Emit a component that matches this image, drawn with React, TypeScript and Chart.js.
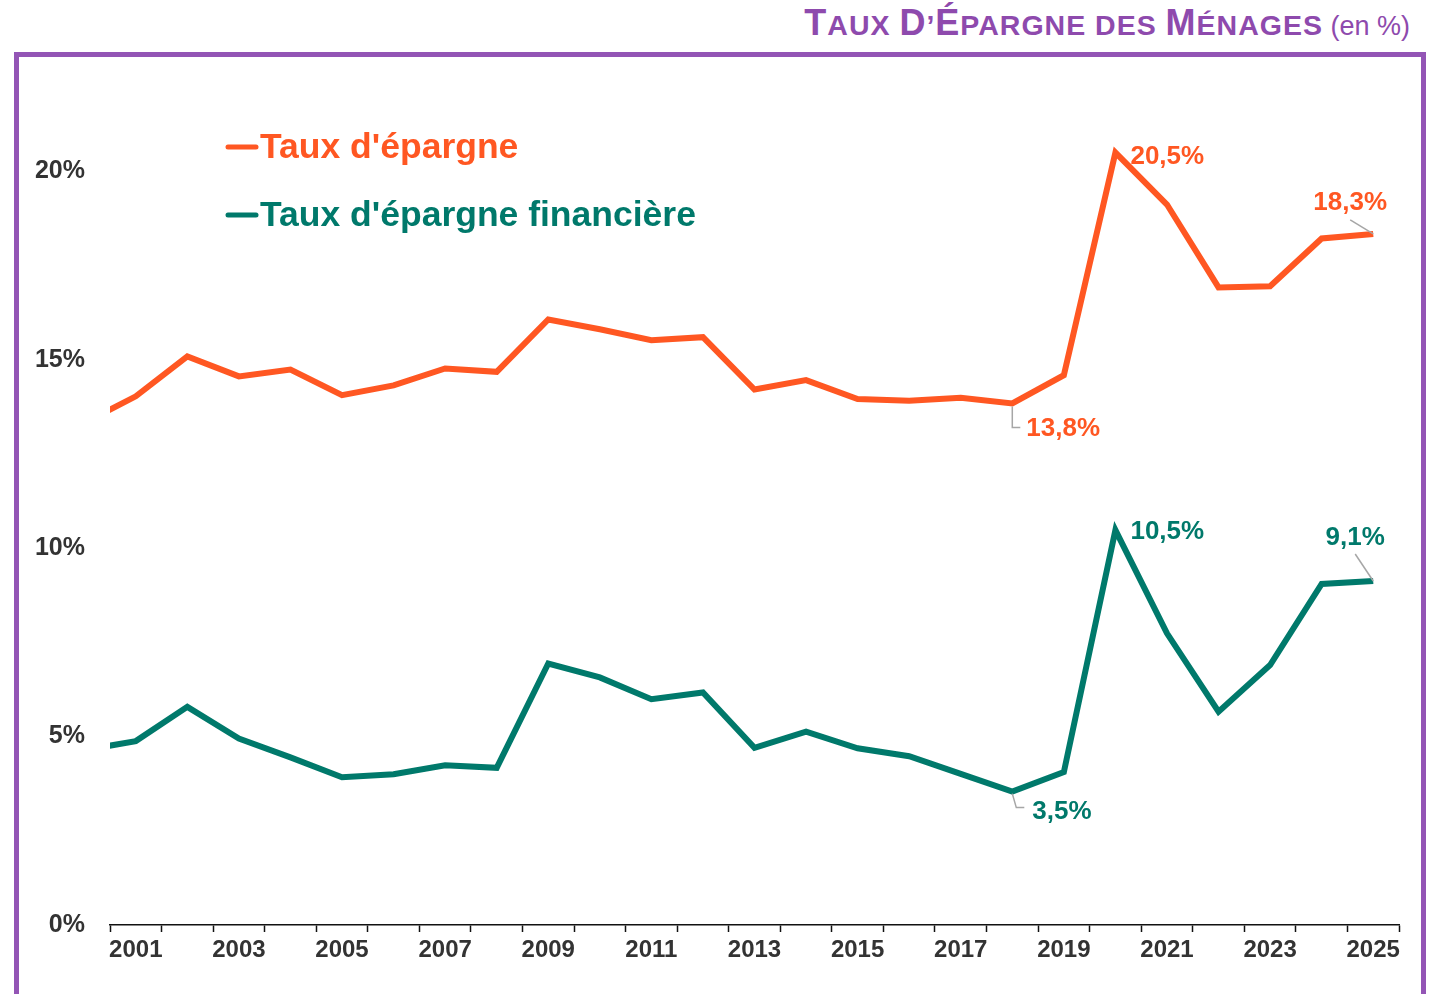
import React, { useEffect, useRef } from "react";
import { Chart, registerables } from "chart.js";

Chart.register(...registerables);

// ---- Data ----
const years = [
  2000, 2001, 2002, 2003, 2004, 2005, 2006, 2007, 2008, 2009, 2010, 2011, 2012,
  2013, 2014, 2015, 2016, 2017, 2018, 2019, 2020, 2021, 2022, 2023, 2024, 2025,
];
const tauxEpargne = [
  13.33, 14.03, 15.09, 14.56, 14.74, 14.06, 14.32, 14.77, 14.68, 16.07, 15.81,
  15.52, 15.6, 14.21, 14.46, 13.96, 13.91, 13.99, 13.84, 14.59, 20.5, 19.12,
  16.92, 16.95, 18.22, 18.34,
];
const tauxEpargneFinanciere = [
  4.64, 4.88, 5.79, 4.95, 4.45, 3.92, 4.0, 4.24, 4.17, 6.94, 6.57, 5.99, 6.17,
  4.7, 5.13, 4.69, 4.48, 4.01, 3.54, 4.06, 10.48, 7.74, 5.66, 6.9, 9.05, 9.13,
];
const seriesNames = ["Taux d'épargne", "Taux d'épargne financière"];
const yTicks = [0, 5, 10, 15, 20];
const labelYears = [2018, 2020, 2025];
const labelTexts = [
  ["13,8%", "20,5%", "18,3%"],
  ["3,5%", "10,5%", "9,1%"],
];

// ---- Styles ----
const COLORS = ["#FF5722", "#00796B"];
const PURPLE = "#8E4AAD";
const BORDER_PURPLE = "#9355B5";
const FONT = '"Liberation Sans", Arial, Helvetica, sans-serif';
const TEXT_DARK = "#333333";

// per-label offsets (series, label index)
const calloutStyle = [
  [
    { dx: 14, dy: 25, align: "left", leader: [[0, 3], [0, 24], [8, 24]] },
    { dx: 15, dy: 4, align: "left", leader: null },
    { dx: -23, dy: -31, align: "center", leader: [[-23, -14], [0, 0]] },
  ],
  [
    { dx: 20, dy: 20, align: "left", leader: [[0, 2], [4, 16], [12, 16]] },
    { dx: 15, dy: 2, align: "left", leader: null },
    { dx: -18, dy: -43, align: "center", leader: [[-18, -27], [0, 0]] },
  ],
];

const calloutPlugin = {
  id: "callouts",
  afterDatasetsDraw(chart: any) {
    const ctx = chart.ctx;
    ctx.save();
    for (let s = 0; s < 2; s++) {
      const meta = chart.getDatasetMeta(s);
      labelYears.forEach((yr, i) => {
        const pt = meta.data[years.indexOf(yr)];
        if (!pt) return;
        const st: any = calloutStyle[s][i];
        const x = pt.x;
        const y = pt.y;
        if (st.leader) {
          ctx.beginPath();
          ctx.strokeStyle = "#A6A6A6";
          ctx.lineWidth = 1.5;
          st.leader.forEach((p: number[], k: number) => {
            if (k === 0) ctx.moveTo(x + p[0], y + p[1]);
            else ctx.lineTo(x + p[0], y + p[1]);
          });
          ctx.stroke();
        }
        ctx.font = `bold 26px ${FONT}`;
        ctx.fillStyle = COLORS[s];
        ctx.textAlign = st.align;
        ctx.textBaseline = "middle";
        ctx.fillText(labelTexts[s][i], x + st.dx, y + st.dy);
      });
    }
    ctx.restore();
  },
};

const legendRows = [148, 216];
const legendPlugin = {
  id: "inlineLegend",
  afterDraw(chart: any) {
    const ctx = chart.ctx;
    ctx.save();
    seriesNames.forEach((name, i) => {
      const y = legendRows[i];
      ctx.beginPath();
      ctx.strokeStyle = COLORS[i];
      ctx.lineWidth = 5;
      ctx.lineCap = "round";
      ctx.moveTo(228, y - 1);
      ctx.lineTo(256, y - 1);
      ctx.stroke();
      ctx.font = `bold 35.5px ${FONT}`;
      ctx.fillStyle = COLORS[i];
      ctx.textAlign = "left";
      ctx.textBaseline = "middle";
      ctx.fillText(name, 260, y);
    });
    ctx.restore();
  },
};

export default function App() {
  const canvasRef = useRef<HTMLCanvasElement | null>(null);

  useEffect(() => {
    if (!canvasRef.current) return;
    const chart = new Chart(canvasRef.current, {
      type: "line",
      data: {
        datasets: [
          {
            label: seriesNames[0],
            data: years.map((yr, i) => ({ x: yr, y: tauxEpargne[i] })),
            borderColor: COLORS[0],
            backgroundColor: COLORS[0],
            borderWidth: 6,
            pointRadius: 0,
            tension: 0,
            clip: 0,
          },
          {
            label: seriesNames[1],
            data: years.map((yr, i) => ({ x: yr, y: tauxEpargneFinanciere[i] })),
            borderColor: COLORS[1],
            backgroundColor: COLORS[1],
            borderWidth: 6,
            pointRadius: 0,
            tension: 0,
            clip: 0,
          },
        ],
      },
      options: {
        animation: false,
        responsive: true,
        maintainAspectRatio: false,
        layout: { padding: { left: 0, top: 96, right: 31, bottom: 0 } },
        plugins: {
          legend: { display: false },
          tooltip: { enabled: false },
        },
        scales: {
          x: {
            type: "linear",
            min: 2000.5,
            max: 2025.5,
            afterBuildTicks: (scale: any) => {
              const t = [];
              for (let v = 2000.5; v <= 2025.51; v += 0.5) t.push({ value: v });
              scale.ticks = t;
            },
            afterFit: (scale: any) => {
              scale.height = 69;
            },
            ticks: {
              autoSkip: false,
              maxRotation: 0,
              minRotation: 0,
              padding: 4,
              color: TEXT_DARK,
              font: { family: FONT, size: 24, weight: "bold" },
              callback: (v: any) => {
                const n = Number(v);
                return Number.isInteger(n) && n % 2 === 1 ? String(n) : "";
              },
            },
            grid: {
              drawOnChartArea: false,
              drawTicks: true,
              tickLength: 7,
              tickWidth: 1.5,
              tickColor: (ctx: any) =>
                ctx.tick && Number.isInteger(ctx.tick.value)
                  ? "rgba(0,0,0,0)"
                  : "#111111",
            },
            border: { display: true, color: "#111111", width: 1.5 },
          },
          y: {
            type: "linear",
            min: 0,
            max: 22,
            afterBuildTicks: (scale: any) => {
              scale.ticks = yTicks.map((v) => ({ value: v }));
            },
            afterFit: (scale: any) => {
              scale.width = 110;
            },
            ticks: {
              padding: 25,
              color: TEXT_DARK,
              font: { family: FONT, size: 25, weight: "bold" },
              callback: (v: any) => `${v}%`,
            },
            grid: { display: false, drawTicks: false },
            border: { display: false },
          },
        },
      },
      plugins: [calloutPlugin, legendPlugin],
    } as any);
    return () => chart.destroy();
  }, []);

  const big = { fontSize: 36 };
  const small = { fontSize: 28.5 };

  return (
    <div
      style={{
        position: "absolute",
        left: 0,
        top: 0,
        width: 1430,
        height: 994,
        overflow: "hidden",
        background: "#ffffff",
      }}
    >
      <div
        style={{
          position: "absolute",
          right: 20,
          top: 3,
          whiteSpace: "nowrap",
          color: PURPLE,
          fontFamily: FONT,
          lineHeight: "40px",
        }}
      >
        <span style={{ fontWeight: "bold", letterSpacing: 1 }}>
          <span style={big}>T</span>
          <span style={small}>AUX </span>
          <span style={big}>D</span>
          <span style={small}>’</span>
          <span style={big}>É</span>
          <span style={small}>PARGNE DES </span>
          <span style={big}>M</span>
          <span style={small}>ÉNAGES</span>
        </span>
        <span style={{ fontSize: 27, fontWeight: "normal" }}> (en %)</span>
      </div>
      <div
        style={{
          position: "absolute",
          left: 14,
          top: 52,
          width: 1412,
          height: 1000,
          boxSizing: "border-box",
          border: `5px solid ${BORDER_PURPLE}`,
        }}
      />
      <div
        style={{ position: "absolute", left: 0, top: 0, width: 1430, height: 994 }}
      >
        <canvas ref={canvasRef} />
      </div>
    </div>
  );
}
